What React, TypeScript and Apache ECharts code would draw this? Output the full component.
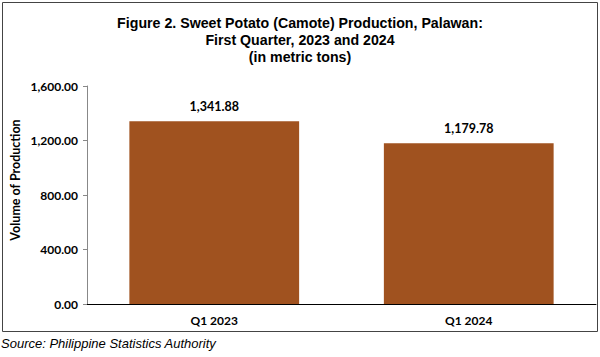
import React, { useEffect, useRef } from "react";
import * as echarts from "echarts";

const categories = ["Q1 2023", "Q1 2024"];
const production = [1341.88, 1179.78];
const yTicks = { min: 0, max: 1600, interval: 400 };
const titleLines = [
  "Figure 2. Sweet Potato (Camote) Production, Palawan:",
  "First Quarter, 2023 and 2024",
  "(in metric tons)",
];
const yAxisName = "Volume of Production";
const sourceText = "Source: Philippine Statistics Authority";

const fmt = (v: number) =>
  v.toLocaleString("en-US", { minimumFractionDigits: 2, maximumFractionDigits: 2 });

export default function App() {
  const ref = useRef<HTMLDivElement>(null);
  useEffect(() => {
    if (!ref.current) return;
    const chart = echarts.init(ref.current, null, { renderer: "svg" });
    chart.setOption({
      animation: false,
      backgroundColor: "#ffffff",
      title: {
        text: titleLines.join("\n"),
        left: "center",
        top: 9,
        textStyle: {
          fontFamily: "Liberation Sans, Arial, sans-serif",
          fontWeight: "bold",
          fontSize: 14.2,
          lineHeight: 17,
          color: "#000",
        },
      },
      graphic: [
        {
          type: "rect",
          shape: { x: 2.5, y: 2.5, width: 595, height: 329 },
          style: { fill: "none", stroke: "#444", lineWidth: 1 },
          silent: true,
        },
        {
          type: "text",
          x: 15,
          y: 180,
          rotation: Math.PI / 2,
          style: {
            text: yAxisName,
            fontFamily: "Lato, sans-serif",
            fontWeight: "bold",
            fontSize: 12.5,
            fill: "#000",
            align: "center",
            verticalAlign: "middle",
          },
        },
        {
          type: "text",
          left: 1,
          top: 337,
          style: {
            text: sourceText,
            fontFamily: "Liberation Sans, Arial, sans-serif",
            fontStyle: "italic",
            fontSize: 13,
            fill: "#000",
          },
        },
      ],
      grid: { left: 87, right: 4, top: 86, bottom: 53 },
      xAxis: {
        type: "category",
        data: categories,
        axisLine: { lineStyle: { color: "#000", width: 1 } },
        axisTick: { show: false },
        axisLabel: {
          fontFamily: "Lato, sans-serif",
          fontWeight: "bold",
          fontSize: 12,
          color: "#000",
          margin: 10,
        },
      },
      yAxis: {
        type: "value",
        min: yTicks.min,
        max: yTicks.max,
        interval: yTicks.interval,
        axisLine: { show: true, lineStyle: { color: "#888", width: 1 } },
        axisTick: { show: true, length: 4, lineStyle: { color: "#888" } },
        splitLine: { show: false },
        axisLabel: {
          formatter: (v: number) => fmt(v),
          fontFamily: "Lato, sans-serif",
          fontWeight: "bold",
          fontSize: 12,
          color: "#000",
          margin: 9,
        },
      },
      series: [
        {
          type: "bar",
          data: production,
          barWidth: "66.7%",
          itemStyle: { color: "#A0521F" },
          label: {
            show: true,
            position: "top",
            distance: 8,
            formatter: (p: any) => fmt(p.value),
            fontFamily: "Lato, sans-serif",
            fontWeight: "bold",
            fontSize: 12.5,
            color: "#000",
          },
        },
      ],
    });
    return () => chart.dispose();
  }, []);
  return <div ref={ref} style={{ width: 600, height: 357, position: "absolute", left: 0, top: 0 }} />;
}
